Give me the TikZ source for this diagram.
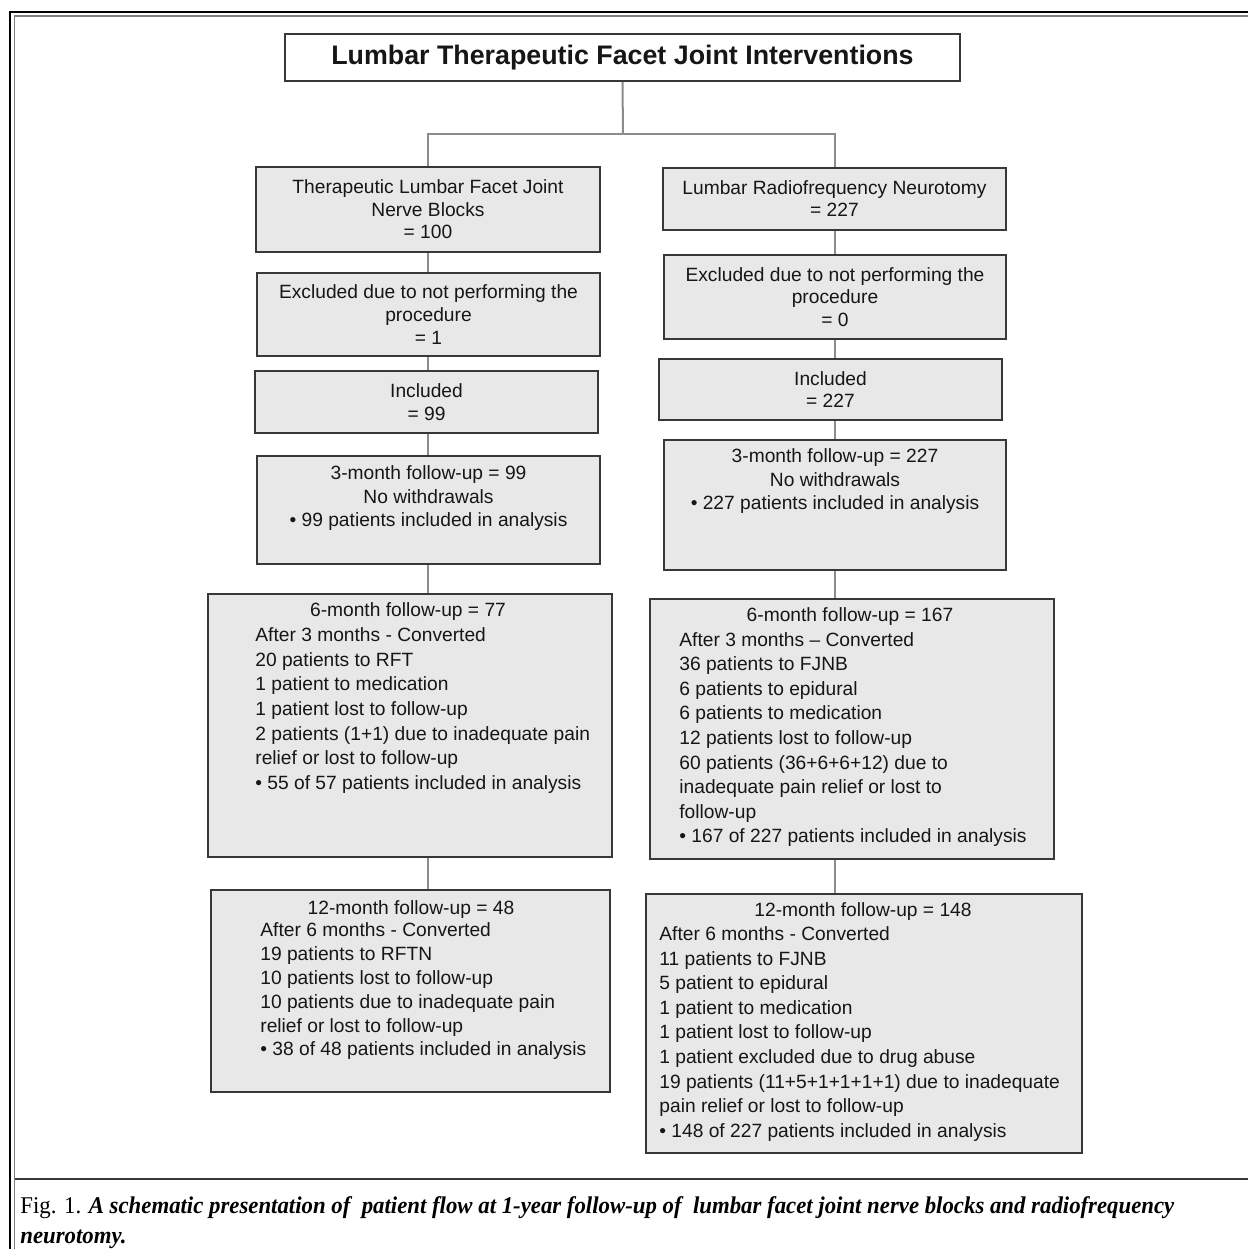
\documentclass[tikz,border=0pt]{standalone}
\usepackage{fontspec}
\setmainfont{Liberation Sans}
\newfontfamily\capfont[FakeStretch=0.95]{Liberation Serif}
\definecolor{boxfill}{HTML}{E8E8E8}
\definecolor{boxline}{HTML}{383838}
\definecolor{linkgray}{HTML}{8C8C8C}
\definecolor{ink}{HTML}{161616}

\begin{document}
\begin{tikzpicture}[x=0.5pt,y=-0.5pt,
  box/.style 2 args={draw=boxline,fill=boxfill,line width=1pt,inner sep=0pt,
    minimum width=#1*0.5pt,minimum height=#2*0.5pt,align=center,text=ink,
    font=\fontsize{9.6}{11.3}\selectfont},
  link/.style={draw=linkgray,line width=1pt},
  txt/.style={inner sep=0pt,text=ink,font=\fontsize{9.6}{12.3}\selectfont}]
  \useasboundingbox (0,0) rectangle (1248,1249);

  % frame and caption rule
  \draw[black,line width=1.2pt] (10,1249) -- (10,12) -- (1248,12);
  \draw[gray,line width=0.9pt] (14.5,1249) -- (14.5,16) -- (1248,16);
  \draw[boxline,line width=1pt] (14.5,1179) -- (1248,1179);

  \node[box={675}{47},fill=white,font=\bfseries\fontsize{13.4}{16}\selectfont] (title) at (622.5,57.5) {Lumbar Therapeutic Facet Joint Interventions};

  % left column
  \node[box={344}{85}] (l1) at (428,209.5) {Therapeutic Lumbar Facet Joint\\Nerve Blocks\\= 100};
  \node[box={343}{83}] (l2) at (428.5,314.5) {Excluded due to not performing the\\procedure\\= 1};
  \node[box={343}{62}] (l3) at (426.5,402) {Included\\= 99};
  \node[box={343}{108}] (l4) at (428.5,510) {};
  \node[txt,align=center,font=\fontsize{9.6}{11.75}\selectfont] (l4t) at (428.5,498.5) {3-month follow-up = 99\\No withdrawals\\• 99 patients included in analysis};
  \node[box={404}{263}] (l5) at (410,725.5) {};
  \node[txt] (l5h) at (408,612) {6-month follow-up = 77};
  \node[txt,align=left,anchor=west] (l5t) at (255,710.5) {After 3 months - Converted\\20 patients to RFT\\1 patient to medication\\1 patient lost to follow-up\\2 patients (1+1) due to inadequate pain\\relief or lost to follow-up\\• 55 of 57 patients included in analysis};
  \node[box={399}{202}] (l6) at (410.5,991) {};
  \node[txt] (l6h) at (411,910) {12-month follow-up = 48};
  \node[txt,align=left,anchor=west,font=\fontsize{9.6}{11.9}\selectfont] (l6t) at (260,991.5) {After 6 months - Converted\\19 patients to RFTN\\10 patients lost to follow-up\\10 patients due to inadequate pain\\relief or lost to follow-up\\• 38 of 48 patients included in analysis};

  % right column
  \node[box={343}{62}] (r1) at (834.5,198.5) {Lumbar Radiofrequency Neurotomy\\= 227};
  \node[box={342}{84}] (r2) at (835,297) {Excluded due to not performing the\\procedure\\= 0};
  \node[box={343}{61}] (r3) at (830.5,389.5) {Included\\= 227};
  \node[box={342}{130}] (r4) at (835,505) {};
  \node[txt,align=center,font=\fontsize{9.6}{11.75}\selectfont] (r4t) at (835,481.5) {3-month follow-up = 227\\No withdrawals\\• 227 patients included in analysis};
  \node[box={404}{260}] (r5) at (852,728.5) {};
  \node[txt] (r5h) at (850,617) {6-month follow-up = 167};
  \node[txt,align=left,anchor=west] (r5t) at (679,739.5) {After 3 months – Converted\\36 patients to FJNB\\6 patients to epidural\\6 patients to medication\\12 patients lost to follow-up\\60 patients (36+6+6+12) due to\\inadequate pain relief or lost to\\follow-up\\• 167 of 227 patients included in analysis};
  \node[box={436}{259}] (r6) at (864,1023.5) {};
  \node[txt] (r6h) at (863,912) {12-month follow-up = 148};
  \node[txt,align=left,anchor=west] (r6t) at (659,1034) {After 6 months - Converted\\11 patients to FJNB\\5 patient to epidural\\1 patient to medication\\1 patient lost to follow-up\\1 patient excluded due to drug abuse\\19 patients (11+5+1+1+1+1) due to inadequate\\pain relief or lost to follow-up\\• 148 of 227 patients included in analysis};

  % connectors
  \coordinate (split) at (623,134);
  \draw[link] (title.south) -- (split);
  \draw[link] (l1.north) |- (split) -| (r1.north);
  \foreach \a/\b in {l1/l2,l2/l3,l3/l4,l4/l5,l5/l6}
    \draw[link] (\a.south -| l1) -- (\b.north -| l1);
  \foreach \a/\b in {r1/r2,r2/r3,r3/r4,r4/r5,r5/r6}
    \draw[link] (\a.south -| r1) -- (\b.north -| r1);

  % caption
  \node[inner sep=0pt,anchor=north west,align=left,font=\capfont\fontsize{12}{15}\selectfont] (cap) at (20,1196) {Fig. 1. {\bfseries\itshape A schematic presentation of\ \ patient flow at 1-year follow-up of\ \ lumbar facet joint nerve blocks and radiofrequency}\\{\bfseries\itshape neurotomy.}};
\end{tikzpicture}
\end{document}
